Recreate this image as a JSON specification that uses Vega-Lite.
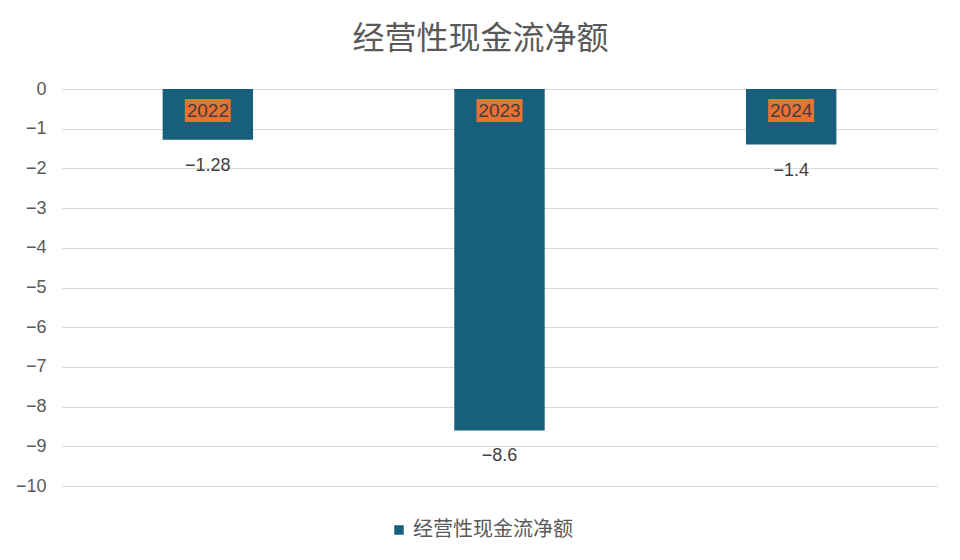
{
  "$schema": "https://vega.github.io/schema/vega-lite/v6.json",
  "background": "white",
  "width": 875,
  "height": 397,
  "autosize": {"type": "none"},
  "padding": {"left": 62, "top": 89, "right": 23, "bottom": 74},
  "title": {
    "text": "经营性现金流净额",
    "fontSize": 32,
    "font": "Liberation Sans, Noto Sans CJK SC",
    "fontWeight": "normal",
    "color": "#595959",
    "anchor": "middle",
    "dx": -19,
    "offset": 24
  },
  "data": {
    "values": [
      {"year": "2022", "value": -1.28, "series": "经营性现金流净额"},
      {"year": "2023", "value": -8.6, "series": "经营性现金流净额"},
      {"year": "2024", "value": -1.4, "series": "经营性现金流净额"}
    ]
  },
  "encoding": {
    "x": {
      "field": "year",
      "type": "ordinal",
      "scale": {"paddingInner": 0, "paddingOuter": 0},
      "axis": null
    },
    "y": {
      "type": "quantitative",
      "scale": {"domain": [-10, 0], "nice": false},
      "axis": {
        "title": null,
        "values": [0, -1, -2, -3, -4, -5, -6, -7, -8, -9, -10],
        "labelOverlap": false,
        "labelFontSize": 18,
        "labelColor": "#595959",
        "labelFont": "Liberation Sans",
        "labelPadding": 16,
        "domain": false,
        "ticks": false,
        "grid": true,
        "gridColor": "#d9d9d9",
        "gridWidth": 1
      }
    }
  },
  "layer": [
    {
      "mark": {"type": "bar", "width": {"band": 0.31}},
      "encoding": {
        "y": {"field": "value"},
        "y2": {"datum": 0},
        "color": {
          "field": "series",
          "type": "nominal",
          "scale": {"range": ["#16607e"]},
          "legend": {
            "title": null,
            "orient": "none",
            "legendX": 327,
            "legendY": 431,
            "symbolType": "square",
            "symbolSize": 90,
            "labelFontSize": 20,
            "labelColor": "#595959",
            "labelFont": "Liberation Sans, Noto Sans CJK SC"
          }
        }
      }
    },
    {
      "mark": {"type": "bar", "width": 46, "color": "#e97132"},
      "encoding": {
        "y": {"datum": -0.25},
        "y2": {"datum": -0.83}
      }
    },
    {
      "mark": {
        "type": "text",
        "fontSize": 19,
        "font": "Liberation Sans",
        "color": "#404040",
        "baseline": "middle",
        "dy": 1
      },
      "encoding": {
        "y": {"datum": -0.54},
        "text": {"field": "year"}
      }
    },
    {
      "mark": {
        "type": "text",
        "fontSize": 18,
        "font": "Liberation Sans",
        "color": "#404040",
        "baseline": "middle",
        "dy": 26
      },
      "encoding": {
        "y": {"field": "value"},
        "text": {"field": "value", "type": "quantitative", "format": ".3~f"}
      }
    }
  ],
  "config": {"view": {"stroke": null}}
}
